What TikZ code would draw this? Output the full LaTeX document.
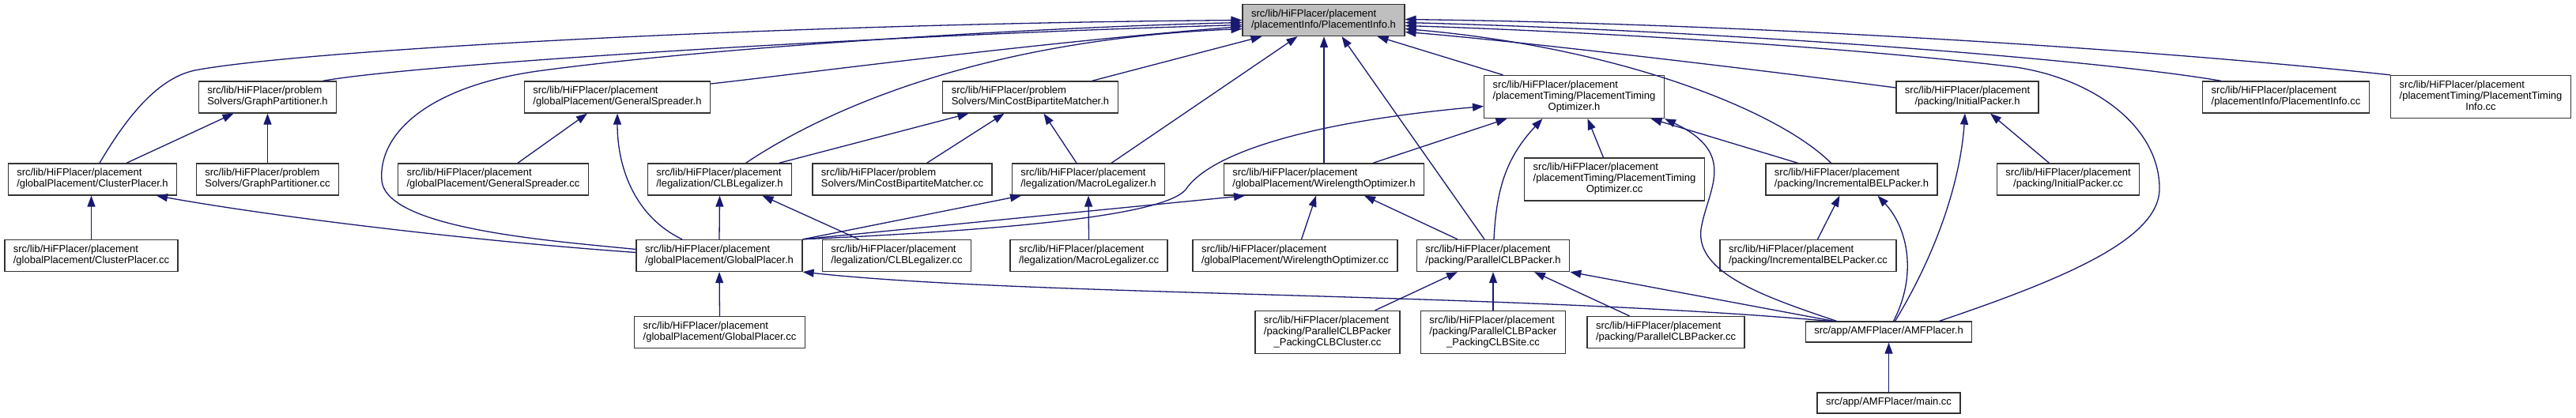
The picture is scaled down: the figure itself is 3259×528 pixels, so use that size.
\documentclass[tikz,border=0pt]{standalone}
\usepackage{fontspec}
\setmainfont{Liberation Sans}
\usetikzlibrary{arrows.meta}
\definecolor{edgec}{HTML}{191970}
\definecolor{nodeb}{HTML}{333333}
\definecolor{selfill}{HTML}{BFBFBF}
\newcommand{\nlabone}[1]{\begin{tabular}{@{}c@{}}#1\end{tabular}}
\newcommand{\nlabtwo}[2]{\begin{tabular}{@{}l@{}}#1\\\multicolumn{1}{@{}c@{}}{#2}\end{tabular}}
\newcommand{\nlabthree}[3]{\begin{tabular}{@{}l@{}}#1\\#2\\\multicolumn{1}{@{}c@{}}{#3}\end{tabular}}
\tikzset{
  box/.style={draw=nodeb, line width=1.3pt, fill=white, rectangle, inner xsep=11pt, inner ysep=6pt, font=\fontsize{13}{14}\selectfont},
  selbox/.style={box, fill=selfill},
  edge/.style={draw=edgec, line width=1.3pt, -{Triangle[length=14pt,width=10pt]}},
}
\begin{document}
\begin{tikzpicture}[x=1pt,y=-1pt]
\useasboundingbox (0,0) rectangle (3259,528);
% row 1
\node[selbox] (PIh) at (1674.5,25.5) {\nlabtwo{src/lib/HiFPlacer/placement}{/placementInfo/PlacementInfo.h}};
% row 2
\node[box] (GPh) at (338.5,123) {\nlabtwo{src/lib/HiFPlacer/problem}{Solvers/GraphPartitioner.h}};
\node[box] (GSh) at (781,123) {\nlabtwo{src/lib/HiFPlacer/placement}{/globalPlacement/GeneralSpreader.h}};
\node[box] (MCBMh) at (1303.5,123) {\nlabtwo{src/lib/HiFPlacer/problem}{Solvers/MinCostBipartiteMatcher.h}};
\node[box] (PTOh) at (1991.5,122.5) {\nlabthree{src/lib/HiFPlacer/placement}{/placementTiming/PlacementTiming}{Optimizer.h}};
\node[box] (IPh) at (2489,123) {\nlabtwo{src/lib/HiFPlacer/placement}{/packing/InitialPacker.h}};
\node[box] (PIcc) at (2892,123) {\nlabtwo{src/lib/HiFPlacer/placement}{/placementInfo/PlacementInfo.cc}};
\node[box] (PTIcc) at (3138.5,122.5) {\nlabthree{src/lib/HiFPlacer/placement}{/placementTiming/PlacementTiming}{Info.cc}};
% row 3
\node[box] (CPh) at (117,227) {\nlabtwo{src/lib/HiFPlacer/placement}{/globalPlacement/ClusterPlacer.h}};
\node[box] (GPcc) at (338.5,227) {\nlabtwo{src/lib/HiFPlacer/problem}{Solvers/GraphPartitioner.cc}};
\node[box] (GScc) at (624,227) {\nlabtwo{src/lib/HiFPlacer/placement}{/globalPlacement/GeneralSpreader.cc}};
\node[box] (CLBLh) at (910.5,227) {\nlabtwo{src/lib/HiFPlacer/placement}{/legalization/CLBLegalizer.h}};
\node[box] (MCBMcc) at (1141.5,227) {\nlabtwo{src/lib/HiFPlacer/problem}{Solvers/MinCostBipartiteMatcher.cc}};
\node[box] (MLh) at (1377,227) {\nlabtwo{src/lib/HiFPlacer/placement}{/legalization/MacroLegalizer.h}};
\node[box] (WOh) at (1675,227) {\nlabtwo{src/lib/HiFPlacer/placement}{/globalPlacement/WirelengthOptimizer.h}};
\node[box] (PTOcc) at (2042.5,227) {\nlabthree{src/lib/HiFPlacer/placement}{/placementTiming/PlacementTiming}{Optimizer.cc}};
\node[box] (IBPh) at (2342.5,227) {\nlabtwo{src/lib/HiFPlacer/placement}{/packing/IncrementalBELPacker.h}};
\node[box] (IPcc) at (2616.5,227) {\nlabtwo{src/lib/HiFPlacer/placement}{/packing/InitialPacker.cc}};
% row 4
\node[box] (CPcc) at (115.5,323.5) {\nlabtwo{src/lib/HiFPlacer/placement}{/globalPlacement/ClusterPlacer.cc}};
\node[box] (GPlh) at (910,323.5) {\nlabtwo{src/lib/HiFPlacer/placement}{/globalPlacement/GlobalPlacer.h}};
\node[box] (CLBLcc) at (1134.5,323.5) {\nlabtwo{src/lib/HiFPlacer/placement}{/legalization/CLBLegalizer.cc}};
\node[box] (MLcc) at (1377.5,323.5) {\nlabtwo{src/lib/HiFPlacer/placement}{/legalization/MacroLegalizer.cc}};
\node[box] (WOcc) at (1638.5,323.5) {\nlabtwo{src/lib/HiFPlacer/placement}{/globalPlacement/WirelengthOptimizer.cc}};
\node[box] (PCPh) at (1889,323.5) {\nlabtwo{src/lib/HiFPlacer/placement}{/packing/ParallelCLBPacker.h}};
\node[box] (IBPcc) at (2287.5,323.5) {\nlabtwo{src/lib/HiFPlacer/placement}{/packing/IncrementalBELPacker.cc}};
% row 5
\node[box] (GPlcc) at (910.5,420.5) {\nlabtwo{src/lib/HiFPlacer/placement}{/globalPlacement/GlobalPlacer.cc}};
\node[box] (PCLBCcc) at (1679.5,420.5) {\nlabthree{src/lib/HiFPlacer/placement}{/packing/ParallelCLBPacker}{\_PackingCLBCluster.cc}};
\node[box] (PCLBScc) at (1889,420.5) {\nlabthree{src/lib/HiFPlacer/placement}{/packing/ParallelCLBPacker}{\_PackingCLBSite.cc}};
\node[box] (PCPcc) at (2107.5,420.5) {\nlabtwo{src/lib/HiFPlacer/placement}{/packing/ParallelCLBPacker.cc}};
\node[box] (AMFh) at (2389.5,420) {\nlabone{src/app/AMFPlacer/AMFPlacer.h}};
% row 6
\node[box] (mainc) at (2389.5,510) {\nlabone{src/app/AMFPlacer/main.cc}};

% edges into PlacementInfo.h
\draw[edge] ([xshift=9pt]CPh.north) .. controls (165,140) and (205,95) .. (252,88) .. controls (400,62) and (1000,30) .. (PIh.west);
\draw[edge] ([yshift=8pt]GPlh.west) .. controls (700,305) and (490,290) .. (483,229) .. controls (478,170) and (540,110) .. (680,90) .. controls (900,60) and (1300,35) .. ([yshift=-3pt]PIh.west);
\draw[edge] ([xshift=70pt]GPh.north) .. controls (520,82) and (1100,45) .. ([yshift=-6pt]PIh.west);
\draw[edge] ([yshift=17pt]GSh.east) .. controls (1000,95) and (1300,55) .. ([yshift=-8pt]PIh.west);
\draw[edge] ([xshift=33pt]CLBLh.north) .. controls (1050,135) and (1250,50) .. ([yshift=-11pt]PIh.west);
\draw[edge] ([xshift=78pt]MCBMh.north) -- ([xshift=-78pt]PIh.south);
\draw[edge] ([xshift=29pt]MLh.north) -- ([xshift=-33pt]PIh.south);
\draw[edge] (WOh.north) -- (WOh.north |- PIh.south);
\draw[edge] ([xshift=-11pt]PCPh.north) -- ([xshift=23pt]PIh.south);
\draw[edge] ([xshift=-90pt]PTOh.north) -- ([xshift=68pt]PIh.south);
\draw[edge] ([xshift=-26pt]IBPh.north) .. controls (2250,140) and (2050,60) .. ([yshift=-11pt]PIh.east);
\draw[edge] ([yshift=12pt]IPh.west) .. controls (2200,85) and (1900,50) .. ([yshift=-15pt]PIh.east);
\draw[edge] ([xshift=64pt]AMFh.north) .. controls (2620,350) and (2735,300) .. (2732,236) .. controls (2730,160) and (2650,100) .. (2550,85) .. controls (2300,55) and (1950,38) .. ([yshift=-7pt]PIh.east);
\draw[edge] ([xshift=-82pt]PIcc.north) .. controls (2650,75) and (2200,40) .. ([yshift=-3pt]PIh.east);
\draw[edge] (PTIcc.north west) .. controls (2700,60) and (2200,30) .. ([yshift=1pt]PIh.east);

% other edges
\draw[edge] ([xshift=43pt]CPh.north) -- ([xshift=-43pt]GPh.south);
\draw[edge] (GPcc.north) -- (GPh.south);
\draw[edge] (CPcc.north) -- (CPcc.north |- CPh.south);
\draw[edge] ([yshift=4pt]GPlh.west) .. controls (600,305) and (350,275) .. ([xshift=81pt]CPh.south);
\draw[edge] ([xshift=31pt]GScc.north) -- ([xshift=-38pt]GSh.south);
\draw[edge] ([xshift=-47pt]GPlh.north) .. controls (805,275) and (781,215) .. (GSh.south);
\draw[edge] ([xshift=75pt]CLBLh.north) -- ([xshift=-78pt]MCBMh.south);
\draw[edge] ([xshift=31pt]MCBMcc.north) -- ([xshift=-33pt]MCBMh.south);
\draw[edge] ([xshift=-15pt]MLh.north) -- ([xshift=17pt]MCBMh.south);
\draw[edge] (GPlh.north) -- (CLBLh.south);
\draw[edge] ([xshift=-48pt]CLBLcc.north) -- ([xshift=54pt]CLBLh.south);
\draw[edge] (GPlh.north east) -- ([xshift=-85pt]MLh.south);
\draw[edge] (GPlh.north east) -- ([xshift=-100pt]WOh.south);
\draw[edge] (GPlh.north east) .. controls (1250,292) and (1470,275) .. (1500,240) .. controls (1530,195) and (1650,155) .. ([yshift=-12pt]PTOh.west);
\draw[edge] (MLcc.north) -- (MLh.south);
\draw[edge] (GPlcc.north) -- (GPlh.south);
\draw[edge] ([xshift=8pt]WOcc.north) -- ([xshift=-10pt]WOh.south);
\draw[edge] ([xshift=-45pt]PCPh.north) -- ([xshift=51pt]WOh.south);
\draw[edge] ([xshift=62pt]WOh.north) -- ([xshift=-85pt]PTOh.south);
\draw[edge] ([xshift=1pt]PCPh.north) .. controls (1893,240) and (1905,200) .. ([xshift=-40pt]PTOh.south);
\draw[edge] ([xshift=-14pt]PTOcc.north) -- ([xshift=17pt]PTOh.south);
\draw[edge] ([xshift=-68pt]IBPh.north) -- ([xshift=97pt]PTOh.south);
\draw[edge] ([xshift=-66pt]AMFh.north) .. controls (2230,375) and (2145,345) .. (2152,290) .. controls (2160,240) and (2200,195) .. (PTOh.south east);
\draw[edge] ([xshift=60pt]PCLBCcc.north) -- ([xshift=-45pt]PCPh.south);
\draw[edge] (PCLBScc.north) -- (PCPh.south);
\draw[edge] ([xshift=-46pt]PCPcc.north) -- ([xshift=52pt]PCPh.south);
\draw[edge] ([xshift=-70pt]AMFh.north) -- (PCPh.south east);
\draw[edge] ([xshift=-75pt]AMFh.north) .. controls (1900,370) and (1300,375) .. (GPlh.south east);
\draw[edge] ([xshift=12pt]IBPcc.north) -- ([xshift=-15pt]IBPh.south);
\draw[edge] ([xshift=6pt]AMFh.north) .. controls (2425,350) and (2415,290) .. ([xshift=33pt]IBPh.south);
\draw[edge] ([xshift=8pt]AMFh.north) .. controls (2450,320) and (2480,230) .. ([xshift=-3pt]IPh.south);
\draw[edge] ([xshift=-24pt]IPcc.north) -- ([xshift=29pt]IPh.south);
\draw[edge] (mainc.north) -- (AMFh.south);
\end{tikzpicture}
\end{document}
